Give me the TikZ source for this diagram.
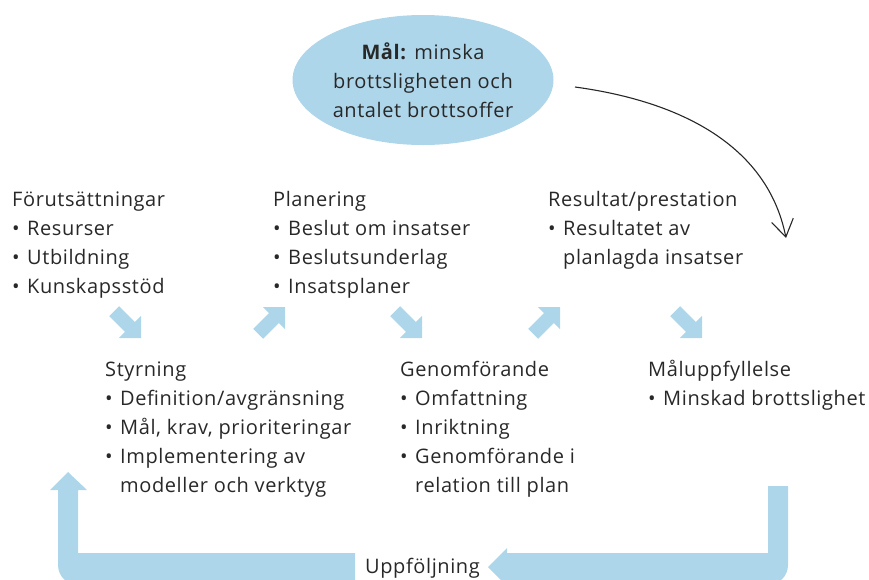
\documentclass[tikz,border=0pt]{standalone}
\usepackage{fontspec}
\setmainfont[LetterSpace=3]{Open Sans}
\usetikzlibrary{shapes.geometric,arrows.meta}
\definecolor{lblue}{RGB}{174,214,234}
\definecolor{txt}{RGB}{40,40,40}
\newcommand\bul{\makebox[15pt][l]{•}}
\newcommand\cont{\hspace*{15pt}}
\newcommand\lines[1]{\vtop{\baselineskip=29pt #1}}
\begin{document}
\begin{tikzpicture}[x=1pt,y=-1pt,
  txtblock/.style={anchor=base west, inner sep=0pt, text=txt, font=\fontsize{20}{29}\selectfont},
  smallarrow/.style={fill=lblue},
  loopband/.style={fill=lblue}]
\useasboundingbox (0,0) rectangle (869,579);
\clip (0,0) rectangle (869,579);
% goal ellipse
\node[ellipse, fill=lblue, inner sep=0pt, minimum width=261pt, minimum height=130pt] (mal) at (423,80) {};
\node[align=center, inner sep=0pt, text=txt, font=\fontsize{20}{29}\selectfont] (maltext) at (423,80) {\textbf{Mål:} minska\\brottsligheten och\\antalet brottsoffer};
% curved arrow
\coordinate (cstart) at (575,87);
\coordinate (cend) at (786,238);
\draw[line width=1.1pt, black!85, -{Straight Barb[length=17pt,width=22pt,line width=1.1pt]}] (cstart) .. controls (685,102) and (768,148) .. (cend);
% text blocks
\node[txtblock] (forut) at (12,206) {\lines{\hbox{Förutsättningar}\hbox{\bul Resurser}\hbox{\bul Utbildning}\hbox{\bul Kunskapsstöd}}};
\node[txtblock] (plan) at (273,206) {\lines{\hbox{Planering}\hbox{\bul Beslut om insatser}\hbox{\bul Beslutsunderlag}\hbox{\bul Insatsplaner}}};
\node[txtblock] (result) at (548,206) {\lines{\hbox{Resultat/prestation}\hbox{\bul Resultatet av}\hbox{\cont planlagda insatser}}};
\node[txtblock] (styr) at (105,376) {\lines{\hbox{Styrning}\hbox{\bul Definition/avgränsning}\hbox{\bul Mål, krav, prioriteringar}\hbox{\bul Implementering av}\hbox{\cont modeller och verktyg}}};
\node[txtblock] (genom) at (400,376) {\lines{\hbox{Genomförande}\hbox{\bul Omfattning}\hbox{\bul Inriktning}\hbox{\bul Genomförande i}\hbox{\cont relation till plan}}};
\node[txtblock] (malupp) at (648,376) {\lines{\hbox{Måluppfyllelse}\hbox{\bul Minskad brottslighet}}};
\node[txtblock] (uppf) at (365,573) {Uppföljning};
% small diagonal arrows
\foreach \tx/\ty/\ang in {141/338/-45, 285/307/45, 422/338/-45, 560/307/45, 702/338/-45}{
  \fill[smallarrow, shift={(\tx,\ty)}, rotate=\ang] (0,0) -- (-15.6,15.6) -- (-15.6,7) -- (-38,7) -- (-38,-7) -- (-15.6,-7) -- (-15.6,-15.6) -- cycle;
}
% feedback loop
\fill[loopband] (68,472) -- (87,490) -- (78,490) -- (78,553) -- (355,553) -- (355,585) -- (78,585) .. controls (67,585) and (58,576) .. (58,565) -- (58,490) -- (50,490) -- cycle;
\fill[loopband] (768,486) -- (788,486) -- (788,565) .. controls (788,576) and (779,585) .. (768,585) -- (507,585) -- (507,586) -- (488,567) -- (507,548) -- (507,553) -- (768,553) -- cycle;
\end{tikzpicture}
\end{document}
